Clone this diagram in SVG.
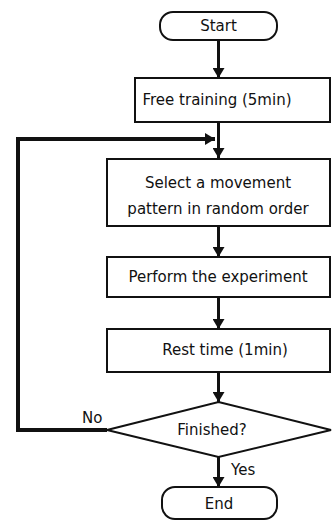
<svg xmlns="http://www.w3.org/2000/svg" width="332" height="522" viewBox="0 0 332 522">
<defs>
<style>
.box{fill:#fff;stroke:#111;stroke-width:2}
.t{font-family:"DejaVu Sans","Liberation Sans",sans-serif;font-size:15px;fill:#111;text-anchor:middle}
.lbl{font-family:"DejaVu Sans","Liberation Sans",sans-serif;font-size:15px;fill:#111}
.c{fill:none;stroke:#111;stroke-width:3}
.fb{fill:none;stroke:#111;stroke-width:4}
</style>
<marker id="ah" markerWidth="10" markerHeight="12" refX="10" refY="6" orient="auto" markerUnits="userSpaceOnUse">
<path d="M0,0 L10,6 L0,12 Z" fill="#111"/>
</marker>
</defs>
<g id="connectors">
<line class="c" x1="218.5" y1="40" x2="218.5" y2="78" marker-end="url(#ah)"/>
<line class="c" x1="218.5" y1="122" x2="218.5" y2="158" marker-end="url(#ah)"/>
<line class="c" x1="218.5" y1="226" x2="218.5" y2="257" marker-end="url(#ah)"/>
<line class="c" x1="218.5" y1="297" x2="218.5" y2="329" marker-end="url(#ah)"/>
<line class="c" x1="218.5" y1="372" x2="218.5" y2="402" marker-end="url(#ah)"/>
<line class="c" x1="218.5" y1="457" x2="218.5" y2="487" marker-end="url(#ah)"/>
<polyline class="fb" points="107,430 18,430 18,139 215,139" marker-end="url(#ah)"/>
<text class="lbl" x="82" y="423">No</text>
<text class="lbl" x="231" y="475">Yes</text>
</g>
<g id="start">
<rect class="box" x="160" y="12" width="117" height="28" rx="13"/>
<text class="t" x="218.5" y="31">Start</text>
</g>
<g id="free-training">
<rect class="box" x="135" y="78" width="195" height="44"/>
<text class="t" x="217" y="105">Free training (5min)</text>
</g>
<g id="select">
<rect class="box" x="107" y="159" width="223" height="67"/>
<text class="t" x="218" y="188">Select a movement</text>
<text class="t" x="218" y="214">pattern in random order</text>
</g>
<g id="perform">
<rect class="box" x="107" y="257" width="223" height="40"/>
<text class="t" x="218" y="282">Perform the experiment</text>
</g>
<g id="rest">
<rect class="box" x="107" y="329" width="223" height="43"/>
<text class="t" x="225" y="355">Rest time (1min)</text>
</g>
<g id="finished">
<polygon class="box" points="218.5,402 331,430 218.5,457 107,430"/>
<text class="t" x="212" y="435">Finished?</text>
</g>
<g id="end">
<rect class="box" x="162" y="487" width="115" height="32" rx="13"/>
<text class="t" x="219" y="509">End</text>
</g>
</svg>
